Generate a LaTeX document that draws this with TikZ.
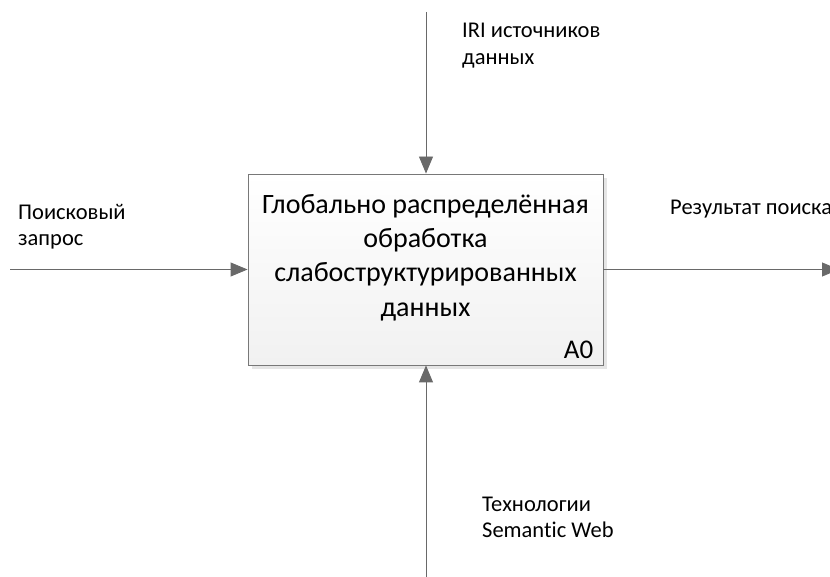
\documentclass[tikz,border=0pt]{standalone}
\usepackage{fontspec}
\setmainfont{Carlito}[Ligatures=NoCommon]
\usetikzlibrary{arrows.meta,shadows}

\definecolor{linegray}{RGB}{105,105,105}
\definecolor{boxgray}{RGB}{120,120,120}

\tikzset{
  flow/.style={draw=linegray,line width=0.9pt,-{Triangle[length=17pt,width=14pt]}},
  func/.style={draw=boxgray,line width=0.9pt,top color=white,bottom color=gray!11,
    minimum width=355pt,minimum height=191pt,
    drop shadow={shadow xshift=4pt,shadow yshift=-4pt,fill=gray!20,opacity=1}},
  lbl/.style={anchor=west,align=left,inner sep=0pt,font=\fontsize{22.5}{26.5}\selectfont}
}

\begin{document}
\begin{tikzpicture}[x=1pt,y=1pt]
  \clip (0,0) rectangle (830,576);
  \useasboundingbox (0,0) rectangle (830,576);
  % function block
  \node[func] (proc) at (425.5,306.5) {};
  \node[align=center,inner sep=0pt,font=\fontsize{28}{34.3}\selectfont] (title)
    at ([yshift=12pt]proc.center) {Глобально распределённая\\обработка\\слабоструктурированных\\данных};
  \node[anchor=south east,inner sep=0pt,font=\fontsize{27}{34}\selectfont] (num)
    at ([xshift=-10pt,yshift=7pt]proc.south east) {A0};
  % free ends
  \coordinate (ctrl) at (426,564);
  \coordinate (mech) at (426,-2);
  \coordinate (inp) at (10,306.5);
  \coordinate (outp) at (839,306.5);
  % arrows
  \draw[flow] (ctrl) -- (ctrl |- proc.north);
  \draw[flow] (mech) -- (mech |- proc.south);
  \draw[flow] (inp) -- (proc.west);
  \draw[flow] (proc.east) -- (outp);
  % labels
  \node[lbl] (ctrltxt) at (462,530.4) {IRI источников\\данных};
  \node[lbl] (inptxt) at (18,349.2) {Поисковый\\запрос};
  \node[lbl,anchor=base west] (outptxt) at (670,361.5) {Результат поиска};
  \node[lbl] (mechtxt) at (482,58.5) {Технологии\\Semantic Web};
\end{tikzpicture}
\end{document}
